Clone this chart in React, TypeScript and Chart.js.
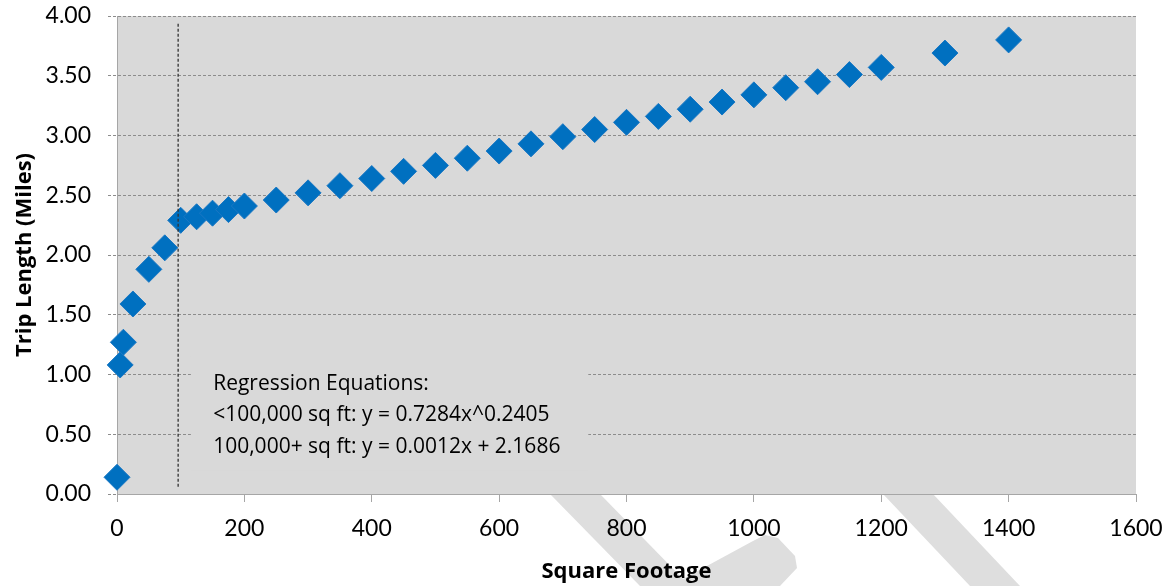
import React, { useEffect, useRef } from "react";
import { Chart, registerables } from "chart.js";

Chart.register(...registerables);

// ---- data ----
const sqFootage = [
  0, 5, 10, 25, 50, 75, 100, 125, 150, 175, 200, 250, 300, 350, 400, 450, 500,
  550, 600, 650, 700, 750, 800, 850, 900, 950, 1000, 1050, 1100, 1150, 1200,
  1300, 1400,
];
const tripLength = [
  0.14, 1.08, 1.27, 1.59, 1.88, 2.06, 2.29, 2.32, 2.35, 2.38, 2.41, 2.46, 2.52,
  2.58, 2.64, 2.7, 2.75, 2.81, 2.87, 2.93, 2.99, 3.05, 3.11, 3.16, 3.22, 3.28,
  3.34, 3.4, 3.45, 3.51, 3.57, 3.69, 3.8,
];
const thresholdX = [96, 96];
const thresholdY = [0.06, 3.94];

const xTitle = "Square Footage";
const yTitle = "Trip Length (Miles)";
const noteLines = [
  "Regression Equations:",
  "<100,000 sq ft: y = 0.7284x^0.2405",
  "100,000+ sq ft: y = 0.0012x + 2.1686",
];
const xMin = 0, xMax = 1600, xStep = 200;
const yMin = 0, yMax = 4, yStep = 0.5;

const PLOT_BG = "#d9d9d9";
const TICK_FONT = "Lato, 'Noto Sans', sans-serif";
const TEXT_FONT = "'Open Sans', 'Noto Sans', sans-serif";

const watermarkPlugin = {
  id: "watermarkAndBg",
  beforeDraw(chart: any) {
    const { ctx, chartArea } = chart;
    ctx.save();
    ctx.fillStyle = "#dedede";
    const shapes = [
      [[550, 494], [600, 494], [690, 586], [640, 586]],
      [[883, 494], [933, 494], [1020, 586], [970, 586]],
      [[670, 586], [753, 541], [765, 535], [778, 538], [795, 556], [797, 568], [780, 586]],
    ];
    shapes.forEach((s) => {
      ctx.beginPath();
      s.forEach(([x, y], i) => (i ? ctx.lineTo(x, y) : ctx.moveTo(x, y)));
      ctx.closePath();
      ctx.fill();
    });
    ctx.fillStyle = PLOT_BG;
    ctx.fillRect(
      chartArea.left,
      chartArea.top,
      chartArea.right - chartArea.left,
      chartArea.bottom - chartArea.top
    );
    ctx.restore();
  },
};

const notePlugin = {
  id: "noteBox",
  beforeDatasetsDraw(chart: any) {
    const { ctx, scales } = chart;
    const x = scales.x, y = scales.y;
    const left = x.getPixelForValue(116);
    const right = x.getPixelForValue(740);
    const top = y.getPixelForValue(1.15);
    const bottom = y.getPixelForValue(0.2);
    ctx.save();
    ctx.fillStyle = PLOT_BG;
    ctx.fillRect(left, top, right - left, bottom - top);
    ctx.fillStyle = "#000";
    ctx.font = `21px ${TEXT_FONT}`;
    ctx.textBaseline = "alphabetic";
    ctx.textAlign = "left";
    const tx = x.getPixelForValue(151);
    noteLines.forEach((t, i) => ctx.fillText(t, tx, top + 33.5 + i * 31.4));
    ctx.restore();
  },
};

export default function App() {
  const ref = useRef<HTMLCanvasElement | null>(null);
  useEffect(() => {
    document.body.style.margin = "0";
    const canvas = ref.current!;
    const chart = new Chart(canvas, {
      type: "scatter",
      data: {
        datasets: [
          {
            label: "threshold",
            data: thresholdX.map((v, i) => ({ x: v, y: thresholdY[i] })),
            showLine: true,
            borderColor: "#333333",
            borderWidth: 1.3,
            borderDash: [3, 2],
            pointRadius: 0,
            order: 0,
          },
          {
            label: "Trip Length",
            data: sqFootage.map((v, i) => ({ x: v, y: tripLength[i] })),
            pointStyle: "rectRot",
            pointRadius: 13,
            pointHoverRadius: 13,
            backgroundColor: "#0070c0",
            borderColor: "#1a78c4",
            borderWidth: 1,
            clip: false,
            order: 1,
          },
        ],
      },
      options: {
        animation: false,
        responsive: false,
        devicePixelRatio: 1,
        layout: { padding: { left: 0, right: 36, top: 16, bottom: 0 } },
        plugins: {
          legend: { display: false },
          tooltip: { enabled: false },
        },
        scales: {
          x: {
            type: "linear",
            min: xMin,
            max: xMax,
            ticks: {
              stepSize: xStep,
              color: "#000",
              padding: 13,
              font: { family: TICK_FONT, size: 23 },
              maxRotation: 0,
              callback: (v: any) => String(v),
            },
            grid: {
              drawOnChartArea: false,
              drawTicks: true,
              tickLength: 8,
              color: "#a6a6a6",
              tickColor: "#a6a6a6",
            },
            border: { display: true, color: "#a6a6a6", width: 1 },
            title: {
              display: true,
              text: xTitle,
              color: "#000",
              font: { family: TEXT_FONT, size: 22, weight: "bold" },
              padding: { top: 0, bottom: 1 },
            },
            afterFit: (s: any) => {
              s.height = 92;
              s.paddingLeft = 0;
              s.paddingRight = 0;
            },
          },
          y: {
            type: "linear",
            min: yMin,
            max: yMax,
            ticks: {
              stepSize: yStep,
              color: "#000",
              padding: 17,
              font: { family: TICK_FONT, size: 23 },
              callback: (v: any) => Number(v).toFixed(2),
            },
            grid: {
              color: "#8c8c8c",
              lineWidth: 1,
              drawTicks: true,
              tickLength: 9,
              tickColor: "#8c8c8c",
              tickBorderDash: [3, 2],
            },
            border: { display: true, color: "#a6a6a6", width: 1, dash: [3, 2] },
            title: {
              display: true,
              text: yTitle,
              color: "#000",
              font: { family: TEXT_FONT, size: 22, weight: "bold" },
              padding: { top: 12, bottom: 0 },
            },
            afterFit: (s: any) => {
              s.width = 117;
              s.paddingTop = 0;
              s.paddingBottom = 0;
            },
          },
        },
      },
      plugins: [watermarkPlugin, notePlugin],
    } as any);
    return () => chart.destroy();
  }, []);
  return (
    <div style={{ position: "fixed", left: 0, top: 0, width: 1172, height: 586, background: "#fff" }}>
      <canvas ref={ref} width={1172} height={586} style={{ display: "block" }} />
    </div>
  );
}
